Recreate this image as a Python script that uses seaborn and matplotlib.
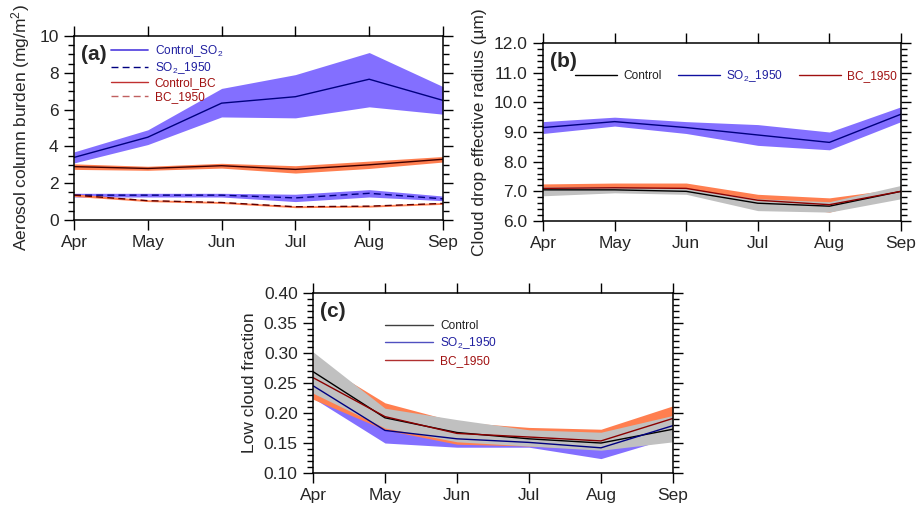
import numpy as np
import pandas as pd
import matplotlib
matplotlib.use('Agg')
import matplotlib.pyplot as plt
from matplotlib.ticker import MultipleLocator
from matplotlib.lines import Line2D
import seaborn as sns

months = ['Apr', 'May', 'Jun', 'Jul', 'Aug', 'Sep']

# (a) aerosol column burden (mg/m2)
a_ctl_so2 = [3.4, 4.5, 6.35, 6.7, 7.65, 6.5]
a_ctl_so2_lo = [3.1, 4.1, 5.6, 5.55, 6.15, 5.75]
a_ctl_so2_hi = [3.7, 4.9, 7.15, 7.9, 9.1, 7.25]
a_so2_1950 = [1.35, 1.35, 1.35, 1.2, 1.45, 1.15]
a_so2_1950_lo = [1.25, 1.25, 1.25, 1.0, 1.25, 1.05]
a_so2_1950_hi = [1.45, 1.45, 1.45, 1.4, 1.65, 1.3]
a_ctl_bc = [2.9, 2.8, 2.95, 2.75, 3.0, 3.3]
a_ctl_bc_lo = [2.75, 2.7, 2.82, 2.55, 2.8, 3.15]
a_ctl_bc_hi = [3.05, 2.92, 3.08, 2.95, 3.2, 3.45]
a_bc_1950 = [1.35, 1.05, 0.95, 0.72, 0.75, 0.9]
a_bc_1950_lo = [1.28, 1.0, 0.9, 0.67, 0.7, 0.85]
a_bc_1950_hi = [1.42, 1.1, 1.0, 0.77, 0.8, 0.95]

# (b) cloud drop effective radius (um)
b_ctl = [7.05, 7.05, 7.0, 6.6, 6.5, 7.0]
b_ctl_lo = [6.85, 6.95, 6.9, 6.35, 6.3, 6.75]
b_ctl_hi = [7.15, 7.15, 7.1, 6.75, 6.65, 7.2]
b_so2 = [9.15, 9.35, 9.15, 8.9, 8.65, 9.6]
b_so2_lo = [8.95, 9.2, 8.95, 8.55, 8.4, 9.35]
b_so2_hi = [9.35, 9.5, 9.35, 9.25, 9.0, 9.85]
b_bc = [7.1, 7.12, 7.1, 6.7, 6.55, 7.0]
b_bc_lo = [7.0, 7.0, 7.0, 6.6, 6.3, 6.9]
b_bc_hi = [7.25, 7.28, 7.28, 6.9, 6.78, 7.1]

# (c) low cloud fraction
c_ctl = [0.269, 0.192, 0.1675, 0.157, 0.150, 0.173]
c_ctl_lo = [0.233, 0.175, 0.152, 0.145, 0.138, 0.152]
c_ctl_hi = [0.302, 0.208, 0.189, 0.172, 0.168, 0.196]
c_so2 = [0.2455, 0.171, 0.157, 0.151, 0.142, 0.179]
c_so2_lo = [0.225, 0.150, 0.143, 0.143, 0.124, 0.16]
c_so2_hi = [0.26, 0.185, 0.17, 0.16, 0.155, 0.19]
c_bc = [0.259, 0.194, 0.166, 0.160, 0.1535, 0.191]
c_bc_lo = [0.223, 0.172, 0.148, 0.145, 0.14, 0.17]
c_bc_hi = [0.29, 0.217, 0.185, 0.176, 0.173, 0.212]

BLUE_FILL = '#836FFF'
ORANGE_FILL = '#FF7F50'
GRAY_FILL = '#C0C0C0'
NAVY = '#000080'
DARKRED = '#8B0000'
BLUE_TXT = '#2020A0'
RED_TXT = '#A01010'

sns.set_theme(style='ticks')
plt.rcParams['font.family'] = ['Liberation Sans', 'DejaVu Sans']
plt.rcParams['mathtext.fontset'] = 'custom'
plt.rcParams['mathtext.rm'] = 'Liberation Sans'
plt.rcParams['mathtext.it'] = 'Liberation Sans:italic'

x = np.arange(len(months))

fig = plt.figure(figsize=(9.16, 5.09), dpi=100)
ax_a = fig.add_axes([0.0808, 0.5678, 0.4028, 0.3615])
ax_b = fig.add_axes([0.5928, 0.5658, 0.3908, 0.3497])
ax_c = fig.add_axes([0.3417, 0.0707, 0.3930, 0.3536])


def band(ax, lo, hi, color):
    ax.fill_between(x, lo, hi, color=color, lw=0)


def line(ax, y, color, ls='-'):
    df = pd.DataFrame({'m': x, 'v': y})
    sns.lineplot(data=df, x='m', y='v', ax=ax, color=color, lw=1.0,
                 linestyle=ls, legend=False)


def style_axes(ax, ylim, major, minor, fmt, ylabel):
    ax.set_xlim(0, 5)
    ax.set_ylim(*ylim)
    ax.set_xticks(x)
    ax.set_xticklabels(months)
    ax.yaxis.set_major_locator(MultipleLocator(major))
    ax.yaxis.set_minor_locator(MultipleLocator(minor))
    ax.yaxis.set_major_formatter(plt.FormatStrFormatter(fmt))
    ax.tick_params(which='both', direction='out', top=True, right=True,
                   labelsize=12.5, color='black', width=1.0)
    ax.tick_params(which='major', length=7, pad=4)
    ax.tick_params(which='minor', length=4)
    for s in ax.spines.values():
        s.set_visible(True)
        s.set_linewidth(1.1)
        s.set_color('black')
    ax.set_xlabel('')
    ax.set_ylabel(ylabel, fontsize=12.5, labelpad=5)


dash = (0, (5, 3))

# ---- (a)
band(ax_a, a_ctl_so2_lo, a_ctl_so2_hi, BLUE_FILL)
band(ax_a, a_so2_1950_lo, a_so2_1950_hi, BLUE_FILL)
band(ax_a, a_ctl_bc_lo, a_ctl_bc_hi, ORANGE_FILL)
band(ax_a, a_bc_1950_lo, a_bc_1950_hi, ORANGE_FILL)
line(ax_a, a_ctl_so2, NAVY)
line(ax_a, a_so2_1950, NAVY, dash)
line(ax_a, a_ctl_bc, '#400000')
line(ax_a, a_bc_1950, '#600000', dash)
style_axes(ax_a, (0, 10), 2, 0.5, '%d', 'Aerosol column burden (mg/m$^2$)')
ax_a.text(0.02, 0.95, '(a)', transform=ax_a.transAxes, fontsize=15,
          fontweight='bold', va='top', ha='left')
h_a = [Line2D([], [], color='#5a4ae0', lw=1.3),
       Line2D([], [], color=NAVY, lw=1.0, linestyle=dash),
       Line2D([], [], color='#c03030', lw=1.0),
       Line2D([], [], color='#c06060', lw=1.0, linestyle=dash)]
lab_a = ['Control_SO$_2$', 'SO$_2$_1950', 'Control_BC', 'BC_1950']
ax_a.legend(h_a, lab_a, loc='upper left', bbox_to_anchor=(0.075, 1.015),
            frameon=False, fontsize=8.6, handlelength=3.1, handletextpad=0.55,
            labelspacing=0.12, borderpad=0.3,
            labelcolor=[BLUE_TXT, BLUE_TXT, RED_TXT, RED_TXT])

# ---- (b)
band(ax_b, b_so2_lo, b_so2_hi, BLUE_FILL)
band(ax_b, b_bc_lo, b_bc_hi, ORANGE_FILL)
band(ax_b, b_ctl_lo, b_ctl_hi, GRAY_FILL)
line(ax_b, b_so2, NAVY)
line(ax_b, b_ctl, 'black')
line(ax_b, b_bc, DARKRED)
style_axes(ax_b, (6, 12), 1, 0.2, '%.1f', 'Cloud drop effective radius (\u00b5m)')
ax_b.text(0.02, 0.95, '(b)', transform=ax_b.transAxes, fontsize=15,
          fontweight='bold', va='top', ha='left')
h_b = [Line2D([], [], color='black', lw=1.0),
       Line2D([], [], color='#1010a0', lw=1.0),
       Line2D([], [], color='#a01010', lw=1.0)]
ax_b.legend(h_b, ['Control', 'SO$_2$_1950', 'BC_1950'], loc='upper left',
            bbox_to_anchor=(0.06, 0.92), ncol=3, frameon=False, fontsize=8.6,
            handlelength=3.5, handletextpad=0.5, columnspacing=1.4,
            labelcolor=['#202020', BLUE_TXT, RED_TXT])

# ---- (c)
band(ax_c, c_so2_lo, c_so2_hi, BLUE_FILL)
band(ax_c, c_bc_lo, c_bc_hi, ORANGE_FILL)
band(ax_c, c_ctl_lo, c_ctl_hi, GRAY_FILL)
line(ax_c, c_ctl, 'black')
line(ax_c, c_so2, NAVY)
line(ax_c, c_bc, DARKRED)
style_axes(ax_c, (0.10, 0.40), 0.05, 0.01, '%.2f', 'Low cloud fraction')
ax_c.text(0.02, 0.95, '(c)', transform=ax_c.transAxes, fontsize=15,
          fontweight='bold', va='top', ha='left')
h_c = [Line2D([], [], color='#404040', lw=1.0),
       Line2D([], [], color='#5050c0', lw=1.0),
       Line2D([], [], color='#b03030', lw=1.0)]
ax_c.legend(h_c, ['Control', 'SO$_2$_1950', 'BC_1950'], loc='upper left',
            bbox_to_anchor=(0.17, 0.91), frameon=False, fontsize=8.6,
            handlelength=4.0, handletextpad=0.6, labelspacing=0.3,
            labelcolor=['#202020', BLUE_TXT, RED_TXT])

fig.savefig('out.png', dpi=100)
